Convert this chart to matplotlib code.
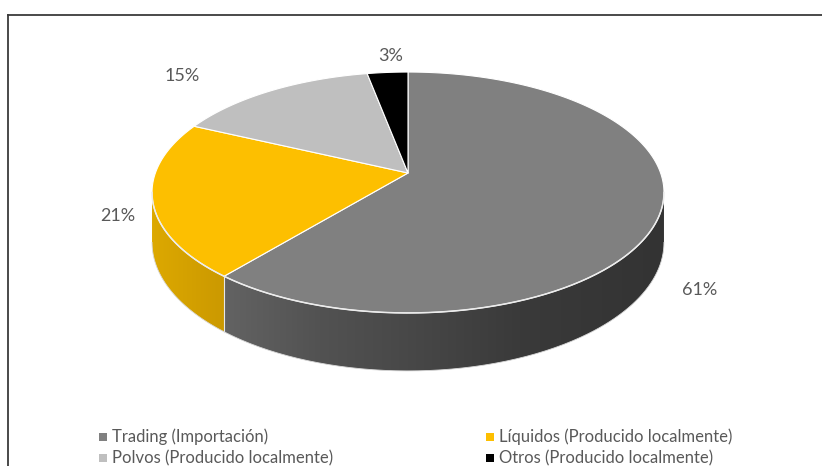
import numpy as np
import matplotlib
matplotlib.use("Agg")
import matplotlib.pyplot as plt
from matplotlib.patches import Polygon
from matplotlib.colors import to_rgb

# ---------------- data ----------------
categories = ["Trading (Importación)", "Líquidos (Producido localmente)",
              "Polvos (Producido localmente)", "Otros (Producido localmente)"]
values = [61, 21, 15, 3]
labels = ["61%", "21%", "15%", "3%"]

# ---------------- style ----------------
top_colors = ["#808080", "#FDBF00", "#BFBFBF", "#000000"]
# side gradient stops (screen x, colour) per slice
side_stops = [
    [(228, "#626262"), (320, "#525252"), (408, "#484848"), (520, "#3a3a3a"), (664, "#333333")],
    [(150, "#DDA900"), (228, "#CA9800")],
    [(0, "#999999"), (822, "#999999")],
    [(0, "#000000"), (822, "#000000")],
]
text_color = "#595959"
FONT = ["Lato", "DejaVu Sans"]
plt.rcParams["font.family"] = FONT

W, H, DPI = 822, 466, 100
fig = plt.figure(figsize=(W / DPI, H / DPI), dpi=DPI)
ax = fig.add_axes([0, 0, 1, 1])
ax.set_xlim(0, W)
ax.set_ylim(H, 0)
ax.axis("off")

# ---------------- perspective projection of the pie ----------------
cx, cy = 408.0, 173.0      # projected centre of the top face
k = 0.1618                 # perspective strength
a = 252.6                  # horizontal scale
b = 117.3                  # depth scale
depth = 48.6               # side wall height (before perspective)


def proj(t_deg, r=1.0, bottom=False):
    t = np.radians(t_deg)
    X = r * np.sin(t)
    Z = r * np.cos(t)
    den = 1 + k * Z
    px = cx + a * X / den
    py = cy - b * Z / den
    if bottom:
        py = py + depth / den
    return px, py


def grad_color(stops, x):
    xs = [s[0] for s in stops]
    cols = np.array([to_rgb(s[1]) for s in stops])
    return np.stack([np.interp(x, xs, cols[:, i]) for i in range(3)], axis=-1)


total = float(sum(values))
bounds = np.concatenate([[0], np.cumsum(values) / total * 360.0])
t_vis0 = np.degrees(np.arccos(-k))
t_vis1 = 360 - t_vis0

# side walls (visible front part), filled with a clipped horizontal gradient
for i in range(len(values)):
    t0, t1 = bounds[i], bounds[i + 1]
    s0, s1 = max(t0, t_vis0), min(t1, t_vis1)
    if s1 <= s0:
        continue
    ts = np.linspace(s0, s1, 300)
    xt, yt = proj(ts)
    xb, yb = proj(ts, bottom=True)
    verts = list(zip(xt, yt)) + list(zip(xb[::-1], yb[::-1]))
    poly = Polygon(verts, closed=True, facecolor="none", edgecolor="none")
    ax.add_patch(poly)
    x_lo, x_hi = min(xt.min(), xb.min()) - 2, max(xt.max(), xb.max()) + 2
    y_lo, y_hi = min(yt.min(), yb.min()) - 2, max(yt.max(), yb.max()) + 2
    xs = np.linspace(x_lo, x_hi, 400)
    img = grad_color(side_stops[i], xs)[None, :, :]
    im = ax.imshow(img, extent=(x_lo, x_hi, y_hi, y_lo), aspect="auto",
                   interpolation="bilinear", zorder=2)
    im.set_clip_path(poly)
    # boundary vertical edge
    if t_vis0 < t1 < t_vis1:
        x1, y1 = proj(t1)
        x2, y2 = proj(t1, bottom=True)
        ax.plot([x1, x2], [y1, y2], color="#e8e8e8", lw=0.8, zorder=3)

ax.set_xlim(0, W)
ax.set_ylim(H, 0)

# bottom rim faint highlight
tb = np.linspace(t_vis0, t_vis1, 300)
bx, by = proj(tb, bottom=True)
ax.plot(bx, by, color="#d9d9d9", lw=0.6, zorder=3)

# top faces
for i in range(len(values)):
    t0, t1 = bounds[i], bounds[i + 1]
    ts = np.linspace(t0, t1, max(int((t1 - t0) / 0.5), 2) + 1)
    px, py = proj(ts)
    verts = [(cx, cy)] + list(zip(px, py))
    ax.add_patch(Polygon(verts, closed=True, facecolor=top_colors[i],
                         edgecolor="white", lw=0.8, joinstyle="round",
                         zorder=4))

# front rim highlight of the top face
rx, ry = proj(tb)
ax.plot(rx, ry, color="#ececec", lw=1.1, zorder=5)

# ---------------- data labels ----------------
label_pos = [(700, 290), (118, 216), (182, 76), (391, 56)]
for lab, (lx, ly) in zip(labels, label_pos):
    ax.text(lx, ly, lab, ha="center", va="center", fontsize=13,
            color=text_color, zorder=6)

# ---------------- legend ----------------
leg_x = [103, 490]
leg_y = [437, 458]
for i, cat in enumerate(categories):
    col, row = i % 2, i // 2
    x0, y0 = leg_x[col], leg_y[row]
    ax.plot([x0], [y0], marker="s", ms=5.5, color=top_colors[i],
            markeredgewidth=0, zorder=6)
    ax.text(x0 + 9, y0, cat, ha="left", va="center", fontsize=12,
            color=text_color, zorder=6)

# ---------------- chart border (top and left visible) ----------------
ax.plot([8, 8], [H + 5, 15], color="#3a3a3a", lw=1.3, zorder=7,
        solid_capstyle="projecting")
ax.plot([8, W + 5], [15, 15], color="#3a3a3a", lw=1.3, zorder=7,
        solid_capstyle="projecting")

fig.savefig("out.png", dpi=DPI, facecolor="white")
